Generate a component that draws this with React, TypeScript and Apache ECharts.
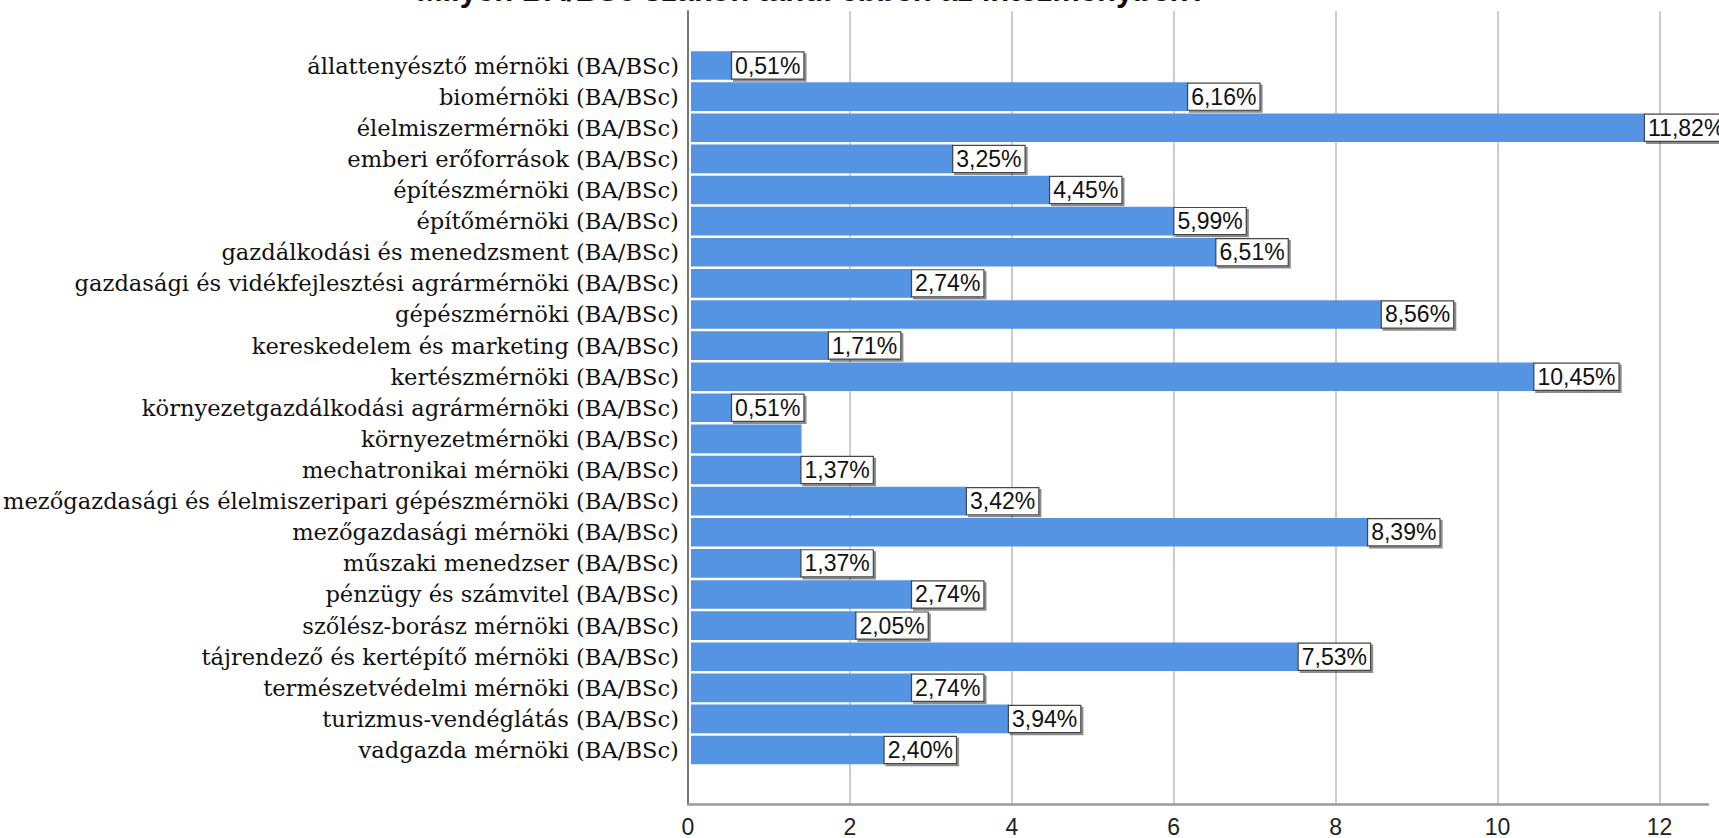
import React, { useEffect, useRef } from "react";
import * as echarts from "echarts";

const titleText = "Milyen BA/BSc szakon tanul ebben az intézményben?";

const categories = [
  "állattenyésztő mérnöki (BA/BSc)",
  "biomérnöki (BA/BSc)",
  "élelmiszermérnöki (BA/BSc)",
  "emberi erőforrások (BA/BSc)",
  "építészmérnöki (BA/BSc)",
  "építőmérnöki (BA/BSc)",
  "gazdálkodási és menedzsment (BA/BSc)",
  "gazdasági és vidékfejlesztési agrármérnöki (BA/BSc)",
  "gépészmérnöki (BA/BSc)",
  "kereskedelem és marketing (BA/BSc)",
  "kertészmérnöki (BA/BSc)",
  "környezetgazdálkodási agrármérnöki (BA/BSc)",
  "környezetmérnöki (BA/BSc)",
  "mechatronikai mérnöki (BA/BSc)",
  "mezőgazdasági és élelmiszeripari gépészmérnöki (BA/BSc)",
  "mezőgazdasági mérnöki (BA/BSc)",
  "műszaki menedzser (BA/BSc)",
  "pénzügy és számvitel (BA/BSc)",
  "szőlész-borász mérnöki (BA/BSc)",
  "tájrendező és kertépítő mérnöki (BA/BSc)",
  "természetvédelmi mérnöki (BA/BSc)",
  "turizmus-vendéglátás (BA/BSc)",
  "vadgazda mérnöki (BA/BSc)",
];

const percents = [
  0.51, 6.16, 11.82, 3.25, 4.45, 5.99, 6.51, 2.74, 8.56, 1.71, 10.45, 0.51,
  1.37, 1.37, 3.42, 8.39, 1.37, 2.74, 2.05, 7.53, 2.74, 3.94, 2.4,
];

// categories whose value label is not shown in the original
const hiddenLabels = ["környezetmérnöki (BA/BSc)"];

const xTickInterval = 2;
const xMax = 12.6;

export default function App() {
  const ref = useRef<HTMLDivElement>(null);

  useEffect(() => {
    if (!ref.current) return;
    const chart = echarts.init(ref.current, null, { renderer: "svg" });

    const fmt = (v: number) => v.toFixed(2).replace(".", ",") + "%";

    const data = percents.map((v, i) =>
      hiddenLabels.includes(categories[i])
        ? { value: v, label: { show: false } }
        : { value: v }
    );

    chart.setOption({
      animation: false,
      backgroundColor: "#ffffff",
      graphic: [
        {
          type: "text",
          x: 812,
          y: -10,
          z: 100,
          style: {
            text: titleText,
            fontFamily: "Liberation Sans",
            fontWeight: "bold",
            fontSize: 31,
            fill: "#111",
            textAlign: "center",
            textVerticalAlign: "middle",
          },
        },
      ],
      grid: [
        { left: 688, right: 11, top: 11, bottom: 34 },
        { left: 688, right: 11, top: 50, bottom: 72.4 },
      ],
      xAxis: [
        {
          gridIndex: 0,
          type: "value",
          min: 0,
          max: xMax,
          interval: xTickInterval,
          axisLine: {
            show: true,
            onZero: false,
            lineStyle: { color: "#9a9a9a", width: 2.5 },
          },
          axisTick: { show: false },
          splitLine: {
            show: true,
            showMinLine: false,
            showMaxLine: false,
            lineStyle: { color: "#cccccc", width: 2 },
          },
          axisLabel: {
            fontFamily: "Liberation Sans",
            fontSize: 23,
            color: "#222",
            margin: 11,
            showMaxLabel: false,
          },
        },
        {
          gridIndex: 1,
          type: "value",
          min: 0,
          max: xMax,
          show: false,
        },
      ],
      yAxis: [
        {
          gridIndex: 0,
          type: "value",
          min: 0,
          max: 1,
          axisLine: {
            show: true,
            onZero: false,
            lineStyle: { color: "#777", width: 2 },
          },
          axisTick: { show: false },
          axisLabel: { show: false },
          splitLine: { show: false },
        },
        {
          gridIndex: 1,
          type: "category",
          data: categories,
          inverse: true,
          axisLine: { show: false },
          axisTick: { show: false },
          splitLine: { show: false },
          axisLabel: {
            interval: 0,
            fontFamily: "DejaVu Serif",
            fontSize: 22.6,
            color: "#111",
            margin: 12,
          },
        },
      ],
      series: [
        {
          type: "bar",
          xAxisIndex: 1,
          yAxisIndex: 1,
          data,
          barCategoryGap: "8%",
          itemStyle: { color: "#5594e2" },
          label: {
            show: true,
            position: "right",
            distance: 0,
            formatter: (p: any) => fmt(p.value),
            fontFamily: "Liberation Sans",
            fontSize: 23,
            color: "#111",
            backgroundColor: "#ffffff",
            borderColor: "#444",
            borderWidth: 1.2,
            padding: [2, 3, 1, 3],
            shadowColor: "rgba(0,0,0,0.45)",
            shadowOffsetX: 2,
            shadowOffsetY: 2,
            shadowBlur: 1,
          },
        },
      ],
    });

    return () => chart.dispose();
  }, []);

  return (
    <div
      ref={ref}
      style={{ position: "fixed", left: 0, top: 0, width: 1719, height: 838 }}
    />
  );
}
